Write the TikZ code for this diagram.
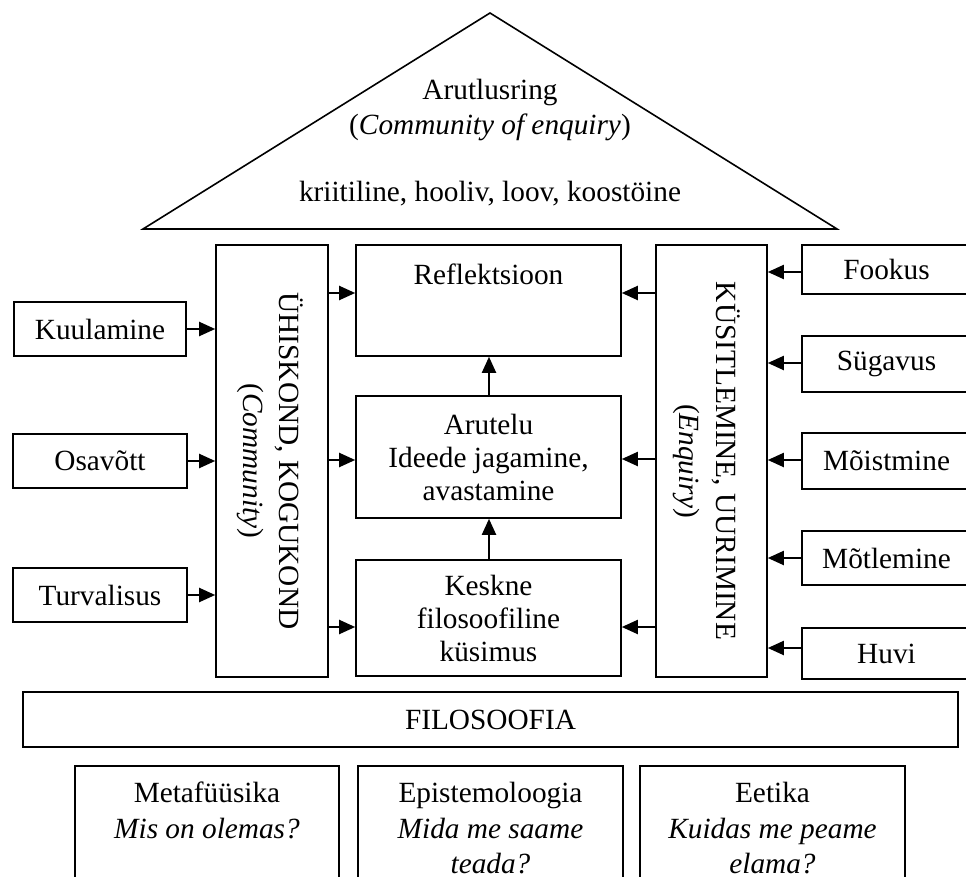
\documentclass[tikz,border=0pt]{standalone}
\usepackage{fontspec}
\setmainfont{Liberation Serif}
\usetikzlibrary{arrows.meta}
\begin{document}
\begin{tikzpicture}[x=1pt,y=-1pt,
  box/.style={draw=black,line width=1.6pt,inner sep=0pt,align=center,
    font=\fontsize{29.3}{33}\selectfont},
  txt/.style={inner sep=0pt,align=center,font=\fontsize{29.3}{33}\selectfont},
  arr/.style={line width=2pt,-{Triangle[length=16pt,width=14pt]}},
  vtext/.style={inner sep=0pt,align=center,rotate=-90}
]
\useasboundingbox (0,0) rectangle (966,877);
\clip (0,0) rectangle (966,877);

% roof
\draw[line width=1.6pt,line join=miter] (143,229) -- (490,13) -- (837,229) -- cycle;
\node[txt,anchor=base] (t1) at (490,100) {Arutlusring};
\node[txt,anchor=base] (t2) at (490,135) {(\textit{Community of enquiry})};
\node[txt,anchor=base] (t3) at (490,202) {kriitiline, hooliv, loov, koostöine};

% left boxes
\node[box,minimum width=172pt,minimum height=54pt] (kuul) at (100,329) {Kuulamine};
\node[box,minimum width=174pt,minimum height=54pt] (osav) at (100,461) {Osavõtt};
\node[box,minimum width=174pt,minimum height=54pt] (turv) at (100,595) {Turvalisus};

% community column
\node[box,minimum width=112pt,minimum height=432pt] (uhis) at (272,461) {};
\node[vtext,font=\fontsize{29.3}{36}\selectfont] (uhist) at (270,461) {ÜHISKOND, KOGUKOND\\(\textit{Community})};

% middle boxes
\node[box,minimum width=265pt,minimum height=111pt] (refl) at (488.5,300.5) {};
\node[txt,anchor=north] (reflt) at (488.5,264) {Reflektsioon};
\node[box,minimum width=265pt,minimum height=122pt] (arut) at (488.5,457) {Arutelu\\Ideede jagamine,\\avastamine};
\node[box,minimum width=265pt,minimum height=116pt] (kesk) at (488.5,618) {Keskne\\filosoofiline\\küsimus};

% enquiry column
\node[box,minimum width=111pt,minimum height=432pt] (kusit) at (711.5,461) {};
\node[vtext,font=\fontsize{29.3}{37}\selectfont] (kusitt) at (707,461) {KÜSITLEMINE, UURIMINE\\(\textit{Enquiry})};

% right boxes
\node[box,minimum width=169pt,minimum height=49pt] (fook) at (886.5,269.5) {Fookus};
\node[box,minimum width=169pt,minimum height=56pt] (suga) at (886.5,364) {Sügavus};
\node[box,minimum width=169pt,minimum height=56pt] (mois) at (886.5,461) {Mõistmine};
\node[box,minimum width=169pt,minimum height=54pt] (motl) at (886.5,558) {Mõtlemine};
\node[box,minimum width=169pt,minimum height=51pt] (huvi) at (886.5,653.5) {Huvi};

% base
\node[box,minimum width=935pt,minimum height=55pt] (filo) at (490.5,719.5) {FILOSOOFIA};
\node[box,minimum width=264pt,minimum height=170pt,anchor=north] (meta) at (207,765) {};
\node[box,minimum width=265pt,minimum height=170pt,anchor=north] (epis) at (490.5,765) {};
\node[box,minimum width=265pt,minimum height=170pt,anchor=north] (eeti) at (772.5,765) {};
\node[txt,anchor=north,font=\fontsize{29.3}{35.5}\selectfont] (metat) at (207,782) {Metafüüsika\\\textit{Mis on olemas?}};
\node[txt,anchor=north,font=\fontsize{29.3}{35.5}\selectfont] (epist) at (490.5,782) {Epistemoloogia\\\textit{Mida me saame}\\\textit{teada?}};
\node[txt,anchor=north,font=\fontsize{29.3}{35.5}\selectfont] (eetit) at (772.5,782) {Eetika\\\textit{Kuidas me peame}\\\textit{elama?}};

% arrows left -> community
\draw[arr] (kuul.east) -- (uhis.west |- kuul.east);
\draw[arr] (osav.east) -- (uhis.west |- osav.east);
\draw[arr] (turv.east) -- (uhis.west |- turv.east);

% community -> middle
\draw[arr] (uhis.east |- 0,293) -- (refl.west |- 0,293);
\draw[arr] (uhis.east |- 0,460) -- (arut.west |- 0,460);
\draw[arr] (uhis.east |- 0,627) -- (kesk.west |- 0,627);

% enquiry -> middle
\draw[arr] (kusit.west |- 0,293) -- (refl.east |- 0,293);
\draw[arr] (kusit.west |- 0,459) -- (arut.east |- 0,459);
\draw[arr] (kusit.west |- 0,627) -- (kesk.east |- 0,627);

% right -> enquiry
\draw[arr] (fook.west |- 0,272) -- (kusit.east |- 0,272);
\draw[arr] (suga.west |- 0,363) -- (kusit.east |- 0,363);
\draw[arr] (mois.west |- 0,460) -- (kusit.east |- 0,460);
\draw[arr] (motl.west |- 0,558) -- (kusit.east |- 0,558);
\draw[arr] (huvi.west |- 0,648) -- (kusit.east |- 0,648);

% vertical
\draw[arr] (kesk.north -| 489,0) -- (arut.south -| 489,0);
\draw[arr] (arut.north -| 489,0) -- (refl.south -| 489,0);
\end{tikzpicture}
\end{document}
